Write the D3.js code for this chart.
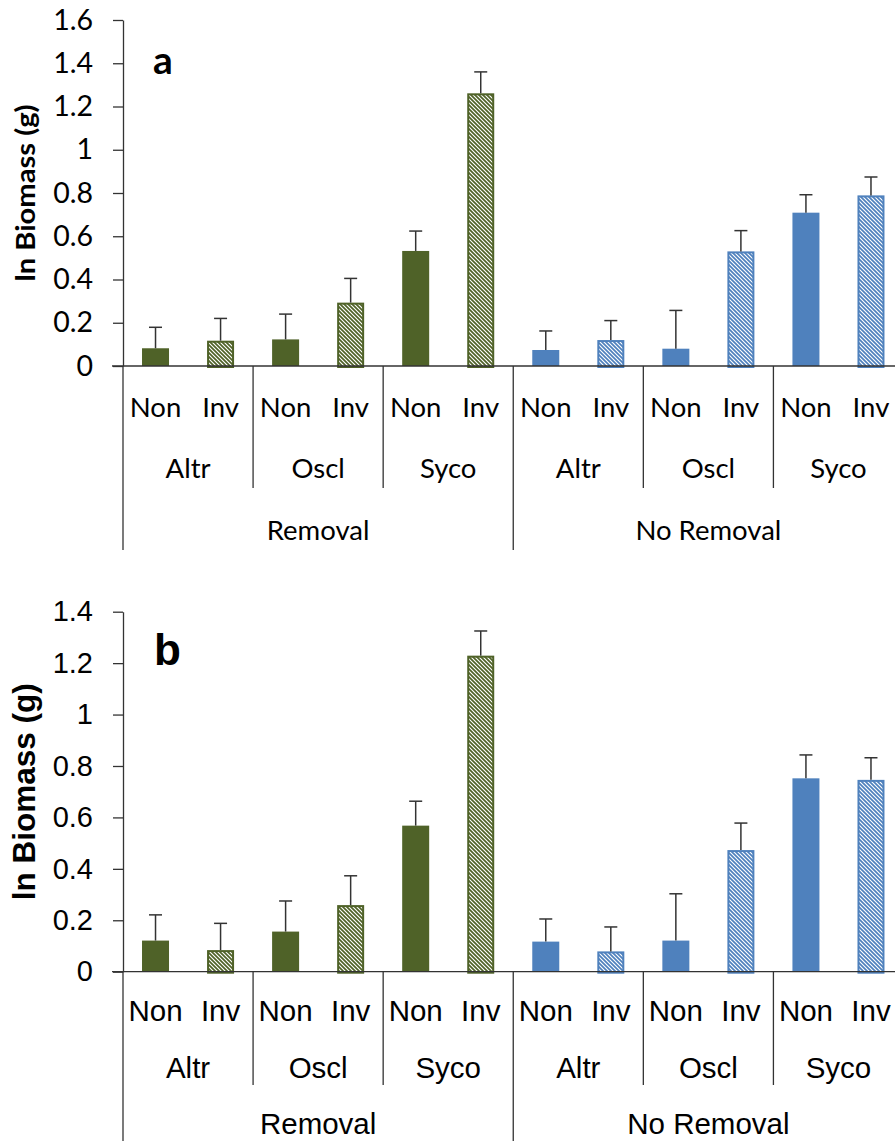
<!DOCTYPE html>
<html>
<head>
<meta charset="utf-8">
<script src="https://cdn.jsdelivr.net/npm/d3@7"></script>
<style>
  body { margin: 0; background: #fff; }
  svg { display: block; }
  .panel-b text { font-family: "Liberation Sans", Arial, Helvetica, sans-serif; }
  .panel-a text { font-family: Lato, "Open Sans", sans-serif; }
</style>
</head>
<body>
<svg id="chart" width="895" height="1141"></svg>
<script>
// Grouping levels of the category axis
const treatments = ["Removal", "No Removal"];
const species = ["Altr", "Oscl", "Syco"];
const origins = ["Non", "Inv"];

// Y-axis tick values for each panel
const yTicksA = [0, 0.2, 0.4, 0.6, 0.8, 1.0, 1.2, 1.4, 1.6];
const yTicksB = [0, 0.2, 0.4, 0.6, 0.8, 1.0, 1.2, 1.4];

// Panel a: mean ln biomass and standard error, ordered Removal (Altr Non/Inv, Oscl, Syco) then No Removal
const meanA = [0.082, 0.117, 0.123, 0.293, 0.532, 1.261, 0.074, 0.120, 0.080, 0.530, 0.709, 0.789];
const seA   = [0.097, 0.103, 0.117, 0.112, 0.092, 0.099, 0.088, 0.090, 0.177, 0.096, 0.083, 0.085];

// Panel b
const meanB = [0.121, 0.084, 0.156, 0.259, 0.568, 1.229, 0.117, 0.079, 0.121, 0.473, 0.752, 0.746];
const seB   = [0.100, 0.104, 0.119, 0.114, 0.095, 0.096, 0.088, 0.095, 0.182, 0.105, 0.091, 0.086];

const treatmentColor = { "Removal": "#4F6228", "No Removal": "#4F81BD" };

const cats = [];
treatments.forEach(t => species.forEach(s => origins.forEach(o => cats.push({ t, s, o, key: `${t}|${s}|${o}` }))));

const svg = d3.select("#chart");
svg.append("rect").attr("width", 895).attr("height", 1141).attr("fill", "#fff");

// Diagonal hatch fills for the invasive bars
const defs = svg.append("defs");
Object.entries(treatmentColor).forEach(([t, c], i) => {
  const p = defs.append("pattern")
    .attr("id", "hatch" + i)
    .attr("patternUnits", "userSpaceOnUse")
    .attr("width", 4).attr("height", 4);
  p.append("rect").attr("width", 4).attr("height", 4).attr("fill", "#fff");
  p.append("path")
    .attr("d", "M-1,-1 L5,5 M-1,3 L1,5 M3,-1 L5,1")
    .attr("stroke", c).attr("stroke-width", 1.7);
});
const hatchId = t => "url(#hatch" + treatments.indexOf(t) + ")";

const x = d3.scaleBand().domain(cats.map(d => d.key)).range([123, 903.5]).padding(0);
const barW = 27;

function drawPanel(cfg) {
  const g = svg.append("g").attr("class", cfg.cls);
  const y = d3.scaleLinear().domain([0, cfg.ticks[cfg.ticks.length - 1]]).range([cfg.y0, cfg.yTop]);
  const fmt = d => String(+d.toFixed(1));

  // Value axis
  const ax = g.append("g").attr("transform", "translate(123,0)")
    .call(d3.axisLeft(y).tickValues(cfg.ticks).tickSize(10).tickSizeOuter(0).tickPadding(20).tickFormat(fmt));
  ax.select(".domain").attr("stroke", "#333").attr("stroke-width", 1.3);
  ax.selectAll(".tick line").attr("stroke", "#333").attr("stroke-width", 1.3);
  ax.selectAll(".tick text")
    .attr("font-size", cfg.tickSize)
    .attr("fill", "#000");

  // Axis title
  g.append("text")
    .attr("transform", `translate(${cfg.titleX},${(cfg.y0 + cfg.yTop) / 2}) rotate(-90)`)
    .attr("text-anchor", "middle")
    .attr("font-size", cfg.titleSize)
    .attr("font-weight", "bold")
    .attr("textLength", cfg.titleLen)
    .attr("lengthAdjust", "spacingAndGlyphs")
    .text("ln Biomass (g)");

  // Panel letter
  g.append("text")
    .attr("x", cfg.letterX).attr("y", cfg.letterY)
    .attr("font-size", cfg.letterSize)
    .attr("font-weight", "bold")
    .text(cfg.letter);

  // Bars
  cats.forEach((c, i) => {
    const cx = x(c.key) + x.bandwidth() / 2;
    const col = treatmentColor[c.t];
    const top = y(cfg.mean[i]);
    if (c.o === "Non") {
      g.append("rect")
        .attr("x", cx - barW / 2).attr("y", top)
        .attr("width", barW).attr("height", y(0) - top)
        .attr("fill", col);
    } else {
      g.append("rect")
        .attr("x", cx - barW / 2 + 1).attr("y", top + 1)
        .attr("width", barW - 2).attr("height", y(0) - top)
        .attr("fill", hatchId(c.t))
        .attr("stroke", col).attr("stroke-width", 2);
    }
    // Upper error bar
    const et = y(cfg.mean[i] + cfg.se[i]);
    g.append("line").attr("x1", cx).attr("x2", cx).attr("y1", top).attr("y2", et)
      .attr("stroke", "#333").attr("stroke-width", 1.5);
    g.append("line").attr("x1", cx - 6.5).attr("x2", cx + 6.5).attr("y1", et).attr("y2", et)
      .attr("stroke", "#333").attr("stroke-width", 1.5);
  });

  // Category axis baseline
  g.append("line").attr("x1", 112).attr("x2", 895).attr("y1", y(0)).attr("y2", y(0))
    .attr("stroke", "#333").attr("stroke-width", 1.3);

  const bw = x.bandwidth();
  // Origin labels
  cats.forEach(c => {
    g.append("text")
      .attr("x", x(c.key) + bw / 2).attr("y", cfg.lab1Y)
      .attr("text-anchor", "middle")
      .attr("font-size", cfg.labSize)
      .text(c.o);
  });
  // Species labels and inner dividers
  treatments.forEach(t => species.forEach((s, si) => {
    const x0 = x(`${t}|${s}|Non`);
    g.append("text")
      .attr("x", x0 + bw).attr("y", cfg.lab2Y)
      .attr("text-anchor", "middle")
      .attr("font-size", cfg.labSize)
      .text(s);
    if (si > 0) {
      g.append("line").attr("x1", x0).attr("x2", x0).attr("y1", y(0)).attr("y2", cfg.innerEnd)
        .attr("stroke", "#333").attr("stroke-width", 1.3);
    }
  }));
  // Treatment labels and outer dividers
  treatments.forEach(t => {
    const x0 = x(`${t}|${species[0]}|Non`);
    g.append("text")
      .attr("x", x0 + bw * 3).attr("y", cfg.lab3Y)
      .attr("text-anchor", "middle")
      .attr("font-size", cfg.labSize)
      .text(t);
    g.append("line").attr("x1", x0).attr("x2", x0).attr("y1", y(0)).attr("y2", cfg.outerEnd)
      .attr("stroke", "#333").attr("stroke-width", 1.3);
  });
}

drawPanel({
  cls: "panel-a", letter: "a", mean: meanA, se: seA, ticks: yTicksA,
  y0: 366, yTop: 20, tickSize: 28.5, titleSize: 27, titleLen: 177, titleX: 35,
  letterX: 153, letterY: 74, letterSize: 39,
  labSize: 27.5, lab1Y: 417, lab2Y: 478, lab3Y: 540, innerEnd: 488, outerEnd: 550
});

drawPanel({
  cls: "panel-b", letter: "b", mean: meanB, se: seB, ticks: yTicksB,
  y0: 971.7, yTop: 611.7, tickSize: 29, titleSize: 31.5, titleLen: 217, titleX: 35,
  letterX: 154, letterY: 665, letterSize: 44,
  labSize: 29.5, lab1Y: 1021, lab2Y: 1078, lab3Y: 1134, innerEnd: 1085, outerEnd: 1141
});
</script>
</body>
</html>
